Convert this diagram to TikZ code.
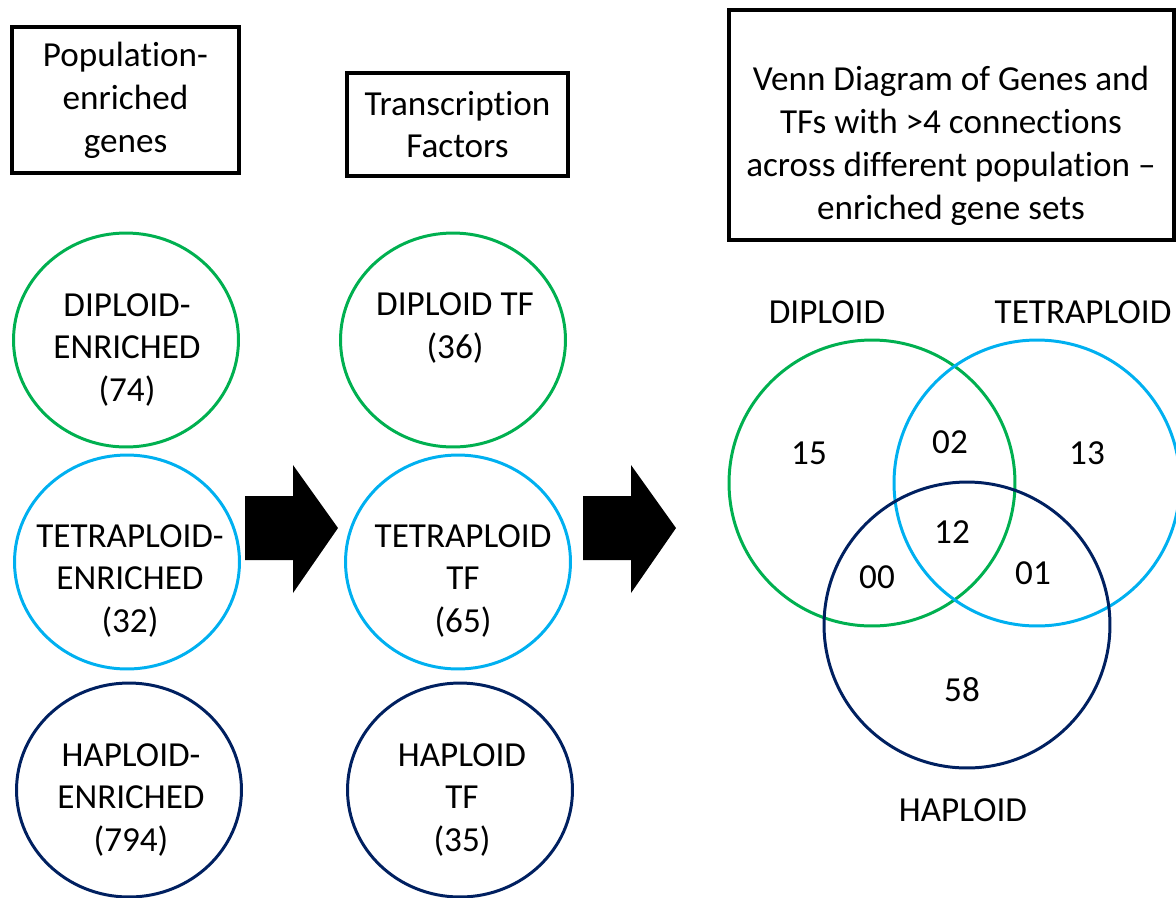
\documentclass[tikz,border=0pt]{standalone}
\usepackage{fontspec}
\setmainfont{Carlito}[Ligatures=NoCommon]
\usetikzlibrary{shapes.geometric}
\definecolor{dipgreen}{HTML}{00B050}
\definecolor{tetblue}{HTML}{00B0F0}
\definecolor{hapnavy}{HTML}{002060}
\tikzset{
    txt/.style={font=\fontsize{20}{24.4}\selectfont, align=center},
    tbox/.style={txt, draw, line width=1.9pt, inner sep=0pt},
    popcirc/.style={ellipse, draw, line width=1.7pt, inner sep=0pt, minimum width=4.5cm, minimum height=4.28cm},
    venncirc/.style={circle, draw, line width=1.7pt, inner sep=0pt, minimum size=5.72cm},
    blockarrow/.style={fill=black}
}
\begin{document}
\begin{tikzpicture}[x=0.02cm, y=-0.02cm]
        \useasboundingbox (0,0) rectangle (1176,897);
        %%%%%%%%%% Titoli %%%%%%%%%%
        \node[tbox, minimum width=4.54cm, minimum height=2.92cm] (genes) at (125.5,100) {Population-\\enriched\\genes};
        \node[tbox, minimum width=4.42cm, minimum height=2.06cm] (tfs) at (457.5,124.5) {Transcription\\Factors};
        \node[tbox, minimum width=8.9cm, minimum height=4.6cm] (venntitle) at (951.5,125) {};
        \node[txt] (venntitletxt) at (951,146) {Venn Diagram of Genes and\\TFs with >4 connections\\across different population --\\enriched gene sets};

        %%%%%%%%%% Cerchi %%%%%%%%%%
        \node[popcirc, dipgreen] (dipG) at (126,340) {};
        \node[popcirc, tetblue]  (tetG) at (127,562) {};
        \node[popcirc, hapnavy]  (hapG) at (129,790) {};
        \node[popcirc, dipgreen] (dipTF) at (453,340) {};
        \node[popcirc, tetblue]  (tetTF) at (458,562) {};
        \node[popcirc, hapnavy]  (hapTF) at (460,790) {};

        \node[txt] (dipGtxt) at (127,350) {DIPLOID-\\ENRICHED\\(74)};
        \node[txt] (tetGtxt) at (130,581) {TETRAPLOID-\\ENRICHED\\(32)};
        \node[txt] (hapGtxt) at (131,800) {HAPLOID-\\ENRICHED\\(794)};
        \node[txt] (dipTFtxt) at (455,328) {DIPLOID TF\\(36)};
        \node[txt] (tetTFtxt) at (463,581) {TETRAPLOID\\TF\\(65)};
        \node[txt] (hapTFtxt) at (462,800) {HAPLOID\\TF\\(35)};

        %%%%%%%%%% Frecce %%%%%%%%%%
        \foreach \ax in {245,583}
            \fill[blockarrow] (\ax,496) -- ++(48,0) -- ++(0,-31) -- ++(45,63) -- ++(-45,65) -- ++(0,-33) -- ++(-48,0) -- cycle;

        %%%%%%%%%% Venn %%%%%%%%%%
        \node[venncirc, dipgreen] (vdip) at (872,483) {};
        \node[venncirc, tetblue]  (vtet) at (1037,483) {};
        \node[venncirc, hapnavy]  (vhap) at (967,625) {};

        \node[txt] (vdiplbl) at (827,312) {DIPLOID};
        \node[txt] (vtetlbl) at (1083,312) {TETRAPLOID};
        \node[txt] (vhaplbl) at (963,810) {HAPLOID};

        \node[txt] (n15) at (809,453) {15};
        \node[txt] (n02) at (950,442) {02};
        \node[txt] (n13) at (1087,453) {13};
        \node[txt] (n12) at (952,532) {12};
        \node[txt] (n00) at (877,577) {00};
        \node[txt] (n01) at (1033,573) {01};
        \node[txt] (n58) at (962,690) {58};
    \end{tikzpicture}
\end{document}
